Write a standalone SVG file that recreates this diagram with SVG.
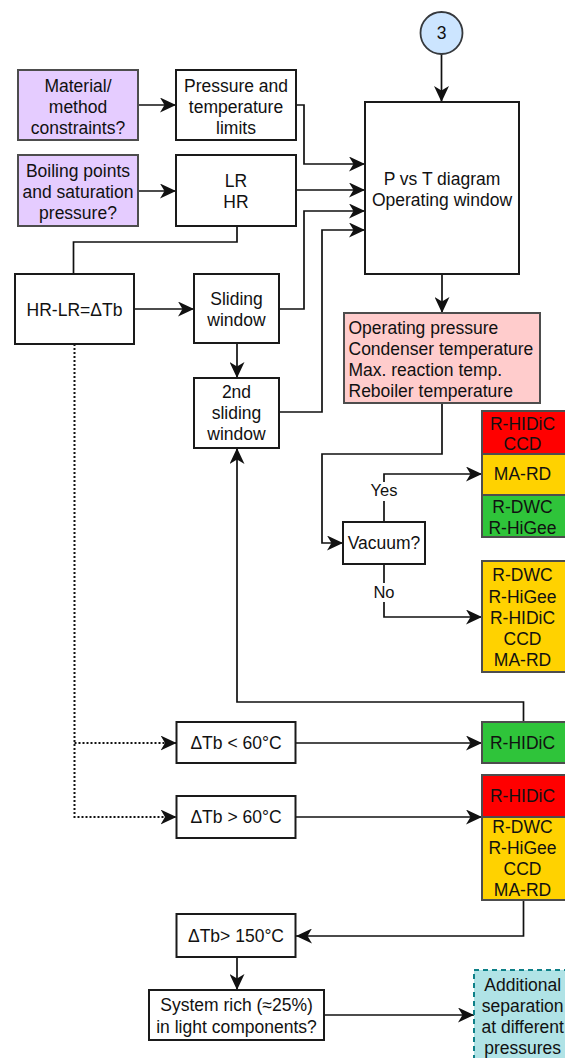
<svg xmlns="http://www.w3.org/2000/svg" width="565" height="1058" viewBox="0 0 565 1058">
<style>
text{font-family:"Liberation Sans",Arial,sans-serif;font-size:17.5px;fill:#111;text-anchor:middle}
.b{fill:#fff;stroke:#1a1a1a;stroke-width:2}
.pu{fill:#e5ccff;stroke:#4d4d4d;stroke-width:2}
.pk{fill:#ffcccc;stroke:#4d4d4d;stroke-width:2}
.rd{fill:#ff0000;stroke:#4d4d4d;stroke-width:2}
.yl{fill:#ffd200;stroke:#4d4d4d;stroke-width:2}
.gr{fill:#2fc43a;stroke:#4d4d4d;stroke-width:2}
.tl{fill:#b0e3e6;stroke:#0e8088;stroke-width:2;stroke-dasharray:5 4}
.c{fill:none;stroke:#111;stroke-width:1.7;marker-end:url(#ar)}
.n{fill:none;stroke:#111;stroke-width:1.7}
.d{fill:none;stroke:#111;stroke-width:2;stroke-dasharray:2 2;marker-end:url(#ar)}
.lb{font-size:16.5px}
.l{text-anchor:start}
</style>
<defs>
<marker id="ar" markerUnits="userSpaceOnUse" markerWidth="16" markerHeight="15" viewBox="0 0 16 15" refX="16" refY="7.5" orient="auto">
<path d="M0,0 L16,7.5 L0,15 L4.5,7.5 z" fill="#111"/>
</marker>
</defs>
<g id="connectors">
<path class="c" d="M441.5,54 V102"/>
<path class="c" d="M138,105 H176"/>
<path class="c" d="M138,191 H176"/>
<path class="c" d="M296,105 H304 V164 H365"/>
<path class="c" d="M296,190 H365"/>
<path class="n" d="M237,226 V242 H73.5 V274"/>
<path class="c" d="M134,309 H194"/>
<path class="c" d="M279,309 H304 V211 H365"/>
<path class="c" d="M279,412 H322 V230 H365"/>
<path class="c" d="M237,343 V378"/>
<path class="c" d="M442,274 V313"/>
<path class="c" d="M442,403 V454 H322 V543 H343"/>
<path class="c" d="M384,522 V474 H482"/>
<path class="c" d="M384,564 V617 H482"/>
<path class="d" d="M74.5,344 V817 H176.5"/>
<path class="d" d="M74.5,743 H176.5"/>
<path class="c" d="M296,743 H482"/>
<path class="c" d="M523.5,722 V702 H237 V448"/>
<path class="c" d="M296,817 H482"/>
<path class="c" d="M523.5,900 V936 H296"/>
<path class="c" d="M237,957 V990"/>
<path class="c" d="M324,1015 H474"/>
<rect x="368" y="482" width="32" height="19" fill="#fff"/>
<text class="lb" x="384" y="496">Yes</text>
<rect x="371" y="583" width="26" height="19" fill="#fff"/>
<text class="lb" x="384" y="598">No</text>
</g>
<g id="n3"><circle cx="441.5" cy="33" r="21" fill="#cce5ff" stroke="#36393d" stroke-width="1.8"/><text x="441.5" y="39" font-size="16">3</text></g>
<g id="material"><rect class="pu" x="18" y="70" width="120" height="70"/><text x="78" y="92">Material/</text><text x="78" y="113">method</text><text x="78" y="134">constraints?</text></g>
<g id="ptlimits"><rect class="b" x="176" y="70" width="120" height="70"/><text x="236" y="92">Pressure and</text><text x="236" y="113">temperature</text><text x="236" y="134">limits</text></g>
<g id="boiling"><rect class="pu" x="18" y="155" width="120" height="71"/><text x="78" y="177">Boiling points</text><text x="78" y="198">and saturation</text><text x="78" y="218.5">pressure?</text></g>
<g id="lrhr"><rect class="b" x="176" y="155" width="120" height="71"/><text x="236" y="187">LR</text><text x="236" y="208">HR</text></g>
<g id="pvst"><rect class="b" x="365" y="102" width="154" height="172"/><text x="442" y="185">P vs T diagram</text><text x="442" y="206">Operating window</text></g>
<g id="hrlr"><rect class="b" x="15" y="274" width="119" height="70"/><text x="74.5" y="316">HR-LR=ΔTb</text></g>
<g id="sliding"><rect class="b" x="194" y="274" width="85" height="69"/><text x="236.5" y="304.5">Sliding</text><text x="236.5" y="325.5">window</text></g>
<g id="sliding2"><rect class="b" x="194" y="378" width="85" height="70"/><text x="236.5" y="398">2nd</text><text x="236.5" y="419">sliding</text><text x="236.5" y="439.5">window</text></g>
<g id="operating"><rect class="pk" x="344" y="313" width="196" height="90"/><text class="l" x="348.5" y="334">Operating pressure</text><text class="l" x="348.5" y="355">Condenser temperature</text><text class="l" x="348.5" y="376">Max. reaction temp.</text><text class="l" x="348.5" y="397">Reboiler temperature</text></g>
<g id="vacuum"><rect class="b" x="343" y="522" width="82" height="42"/><text x="384" y="549">Vacuum?</text></g>
<g id="vac-yes"><rect class="rd" x="482" y="411" width="90" height="43"/><text x="522.5" y="429.5">R-HIDiC</text><text x="522.5" y="449.5">CCD</text><rect class="yl" x="482" y="454" width="90" height="41"/><text x="522.5" y="480">MA-RD</text><rect class="gr" x="482" y="495" width="90" height="42"/><text x="522.5" y="513">R-DWC</text><text x="522.5" y="534">R-HiGee</text></g>
<g id="vac-no"><rect class="yl" x="482" y="561" width="90" height="111"/><text x="522.5" y="581">R-DWC</text><text x="522.5" y="602.5">R-HiGee</text><text x="522.5" y="624">R-HIDiC</text><text x="522.5" y="645">CCD</text><text x="522.5" y="666">MA-RD</text></g>
<g id="dtb-lt60"><rect class="b" x="176.5" y="722" width="119" height="41"/><text x="236" y="749">ΔTb &lt; 60°C</text></g>
<g id="res-lt60"><rect class="gr" x="482" y="722" width="90" height="41"/><text x="522.5" y="749">R-HIDiC</text></g>
<g id="dtb-gt60"><rect class="b" x="176.5" y="796" width="119" height="42"/><text x="236" y="823">ΔTb &gt; 60°C</text></g>
<g id="res-gt60"><rect class="rd" x="482" y="775" width="90" height="42"/><text x="522.5" y="802">R-HIDiC</text><rect class="yl" x="482" y="817" width="90" height="83"/><text x="522.5" y="833">R-DWC</text><text x="522.5" y="854">R-HiGee</text><text x="522.5" y="874.5">CCD</text><text x="522.5" y="895.5">MA-RD</text></g>
<g id="dtb150"><rect class="b" x="176.5" y="914" width="119" height="43"/><text x="236" y="942">ΔTb&gt; 150°C</text></g>
<g id="system"><rect class="b" x="149" y="990" width="175" height="50"/><text x="236.5" y="1011">System rich (≈25%)</text><text x="236.5" y="1032.5">in light components?</text></g>
<g id="additional"><rect class="tl" x="474" y="970" width="98" height="100"/><text x="522.7" y="991">Additional</text><text x="522.7" y="1012">separation</text><text x="522.7" y="1033">at different</text><text x="522.7" y="1054">pressures</text></g>
</svg>
